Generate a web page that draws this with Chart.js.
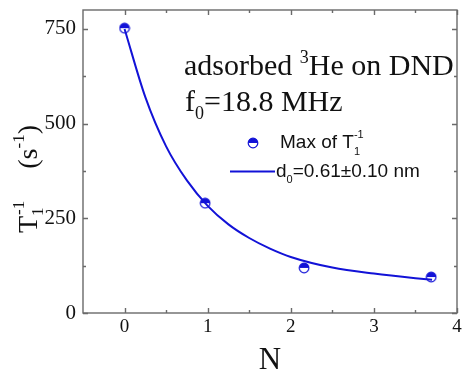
<!DOCTYPE html>
<html>
<head>
<meta charset="utf-8">
<script src="https://cdn.jsdelivr.net/npm/chart.js@4.4.1/dist/chart.umd.min.js"></script>
<style>
  html, body { margin:0; padding:0; background:#fff; }
  #wrap { width:463px; height:373px; position:relative; }
</style>
</head>
<body>
<div id="wrap"><canvas id="myChart"></canvas></div>
<script>
// values
var nFit    = [0, 0.25, 0.5, 0.75, 1.0, 1.25, 1.5, 1.75, 2.0, 2.5, 3.0, 3.5, 3.7];
var rateFit = [750, 570, 440, 350, 283, 234, 198, 170, 148, 120, 104, 92, 88];
var nData    = [0, 0.97, 2.16, 3.69];
var rateData = [752, 290, 119, 95];
var xTicks = [0, 1, 2, 3, 4];
var yTicks = [0, 250, 500, 750];
var xMinor = [0.5, 1.5, 2.5, 3.5];
var yMinor = [125, 375, 625];

var blue = 'rgb(18,18,215)';
var serif = '"Liberation Serif", "Times New Roman", serif';
var sans = '"Liberation Sans", Arial, sans-serif';

// half filled circle marker
var mk = document.createElement('canvas');
mk.width = 12; mk.height = 12;
(function(){
    var c = mk.getContext('2d');
    c.beginPath(); c.arc(6, 6, 4.8, 0, Math.PI*2); c.fillStyle = '#fff'; c.fill();
    c.beginPath(); c.arc(6, 6, 4.8, Math.PI, Math.PI*2); c.closePath(); c.fillStyle = blue; c.fill();
    c.beginPath(); c.arc(6, 6, 4.8, 0, Math.PI*2); c.strokeStyle = blue; c.lineWidth = 1.2; c.stroke();
})();

function runs(ctx, list, x, y){
    // list of [text, size, dy, advance?, family]
    list.forEach(function(r){
        ctx.font = r[1] + 'px ' + (r[4] || serif);
        ctx.fillText(r[0], x, y + r[2]);
        if (r[3] !== false) x += ctx.measureText(r[0]).width;
    });
    return x;
}

var extras = {
    id: 'extras',
    afterDraw: function(chart){
        var ctx = chart.ctx, a = chart.chartArea;
        var xs = chart.scales.x, ys = chart.scales.y;
        ctx.save();
        // frame
        ctx.strokeStyle = '#6a6a6a'; ctx.lineWidth = 1.4;
        ctx.strokeRect(a.left, a.top, a.right - a.left, a.bottom - a.top);
        // inward ticks on all four sides
        ctx.beginPath();
        function xt(v, len){
            var p = Math.round(xs.getPixelForValue(v)) + 0.5;
            ctx.moveTo(p, a.bottom); ctx.lineTo(p, a.bottom - len);
            ctx.moveTo(p, a.top); ctx.lineTo(p, a.top + len);
        }
        function yt(v, len){
            var p = Math.round(ys.getPixelForValue(v)) + 0.5;
            ctx.moveTo(a.left, p); ctx.lineTo(a.left + len, p);
            ctx.moveTo(a.right, p); ctx.lineTo(a.right - len, p);
        }
        xTicks.forEach(function(v){ xt(v, 5); });
        xMinor.forEach(function(v){ xt(v, 3); });
        yTicks.forEach(function(v){ yt(v, 5); });
        yMinor.forEach(function(v){ yt(v, 3); });
        ctx.stroke();

        ctx.fillStyle = '#111';
        ctx.textBaseline = 'alphabetic';
        ctx.textAlign = 'left';
        // y axis title
        ctx.save();
        ctx.translate(37, 233);
        ctx.rotate(-Math.PI/2);
        var px = runs(ctx, [['T', 28, 0], ['1', 17, 6, false]], 0, 0);
        px = runs(ctx, [['-1', 17, -13]], px + 1, 0);
        runs(ctx, [['(s', 28, 0], ['-1', 17, -13], [')', 28, 0]], px + 32, 0);
        ctx.restore();

        // annotation
        runs(ctx, [['adsorbed ', 30, 0], ['3', 18, -12], ['He on DND', 30, 0]], 184, 75);
        runs(ctx, [['f', 30, 0], ['0', 18, 8], ['=18.8 MHz', 30, 0]], 185, 111);

        // legend
        ctx.drawImage(mk, 247, 137);
        runs(ctx, [['Max of T', 19, 0, true, sans], ['1', 11, 7, false, sans], ['-1', 11, -10, true, sans]], 280, 148);
        ctx.strokeStyle = blue; ctx.lineWidth = 2;
        ctx.beginPath(); ctx.moveTo(230, 171.5); ctx.lineTo(275, 171.5); ctx.stroke();
        runs(ctx, [['d', 19, 0, true, sans], ['0', 11, 6, true, sans], ['=0.61\u00b10.10 nm', 19, 0, true, sans]], 276, 177);
        ctx.restore();
    }
};

new Chart(document.getElementById('myChart'), {
    type: 'scatter',
    data: {
        datasets: [{
            label: 'd0=0.61\u00b10.10 nm',
            data: nFit.map(function(v, i){ return {x: v, y: rateFit[i]}; }),
            showLine: true,
            borderColor: blue,
            borderWidth: 2,
            pointRadius: 0,
            cubicInterpolationMode: 'monotone'
        }, {
            label: 'Max of T1-1',
            data: nData.map(function(v, i){ return {x: v, y: rateData[i]}; }),
            pointStyle: mk,
            pointRadius: 5
        }]
    },
    options: {
        responsive: true,
        maintainAspectRatio: false,
        animation: false,
        layout: { padding: { top: 10, right: 3, left: 0, bottom: 0 } },
        plugins: { legend: { display: false }, tooltip: { enabled: false } },
        scales: {
            x: {
                type: 'linear', min: -0.5, max: 4,
                afterFit: function(s){ s.height = 60; s.paddingLeft = 0; s.paddingRight = 0; },
                afterBuildTicks: function(s){ s.ticks = xTicks.map(function(v){ return {value: v}; }); },
                grid: { display: false, drawTicks: false },
                border: { display: false },
                ticks: { padding: 3, color: '#111', font: { family: serif, size: 19 } },
                title: { display: true, text: 'N', color: '#111', font: { family: serif, size: 31, lineHeight: 0.8 }, padding: 0 }
            },
            y: {
                type: 'linear', min: 0, max: 800,
                afterFit: function(s){ s.width = 83; s.paddingTop = 0; s.paddingBottom = 0; },
                afterBuildTicks: function(s){ s.ticks = yTicks.map(function(v){ return {value: v}; }); },
                grid: { display: false, drawTicks: false },
                border: { display: false },
                ticks: { padding: 7, color: '#111', font: { family: serif, size: 21 } }
            }
        }
    },
    plugins: [extras]
});
</script>
</body>
</html>
